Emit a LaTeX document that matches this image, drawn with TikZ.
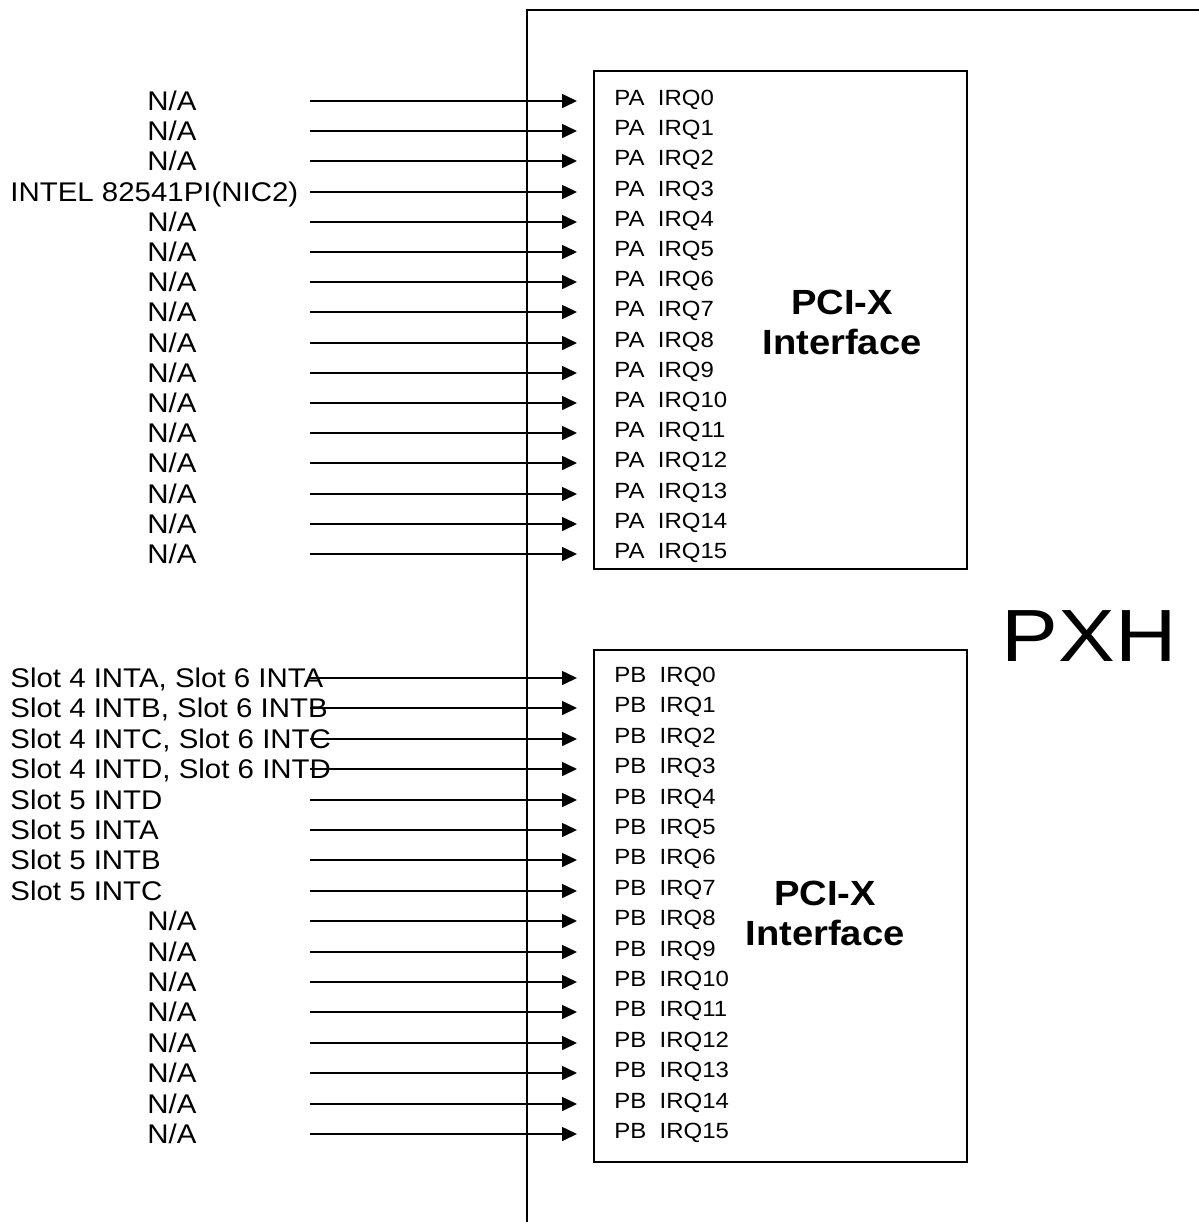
\documentclass[tikz,border=0pt]{standalone}
\usepackage{fontspec}
\setmainfont[FakeStretch=1.09]{Liberation Sans}
\newfontfamily\pxhfont[FakeStretch=1.15]{Liberation Sans}
\usetikzlibrary{arrows.meta,positioning}
\tikzset{
  px/.style={x=0.5pt,y=-0.5pt},
  frame/.style={line width=1pt},
  chipbox/.style={draw,line width=1pt},
  srclabel/.style={inner sep=0pt,anchor=base,font=\fontsize{13.5}{16}\selectfont},
  irqlabel/.style={inner sep=0pt,anchor=base west,font=\fontsize{11}{13}\selectfont},
  iface/.style={align=center,inner sep=0pt,font=\bfseries\fontsize{17.5}{20}\selectfont},
  irqarrow/.style={-{Triangle[length=7.5pt,width=7pt]},line width=0.8pt},
}
\begin{document}
\begin{tikzpicture}[px]
  \useasboundingbox (0,0) rectangle (1199,1222);
  % PXH outline, open to the right and bottom
  \draw[frame] (527,1222) -- (527,10) -- (1199,10);
  \node[font=\pxhfont\fontsize{37}{40}\selectfont,inner sep=0pt] (pxh) at (1089,636) {PXH};

  % port A
  \draw[chipbox] (594,71) rectangle (967,569);
  \node[iface] (pa-iface) at (842,322) {PCI-X\\Interface};
  \foreach \i in {0,...,15}{
    \pgfmathsetmacro\ya{round(101+30.2*\i)}
    \coordinate (pa-src\i) at (310,\ya);
    \coordinate (pa-tip\i) at (577,\ya);
    \node[irqlabel] (pa-irq\i) at (614,\ya+4) {PA\ \ IRQ\i};
    \draw[irqarrow] (pa-src\i) -- (pa-tip\i);
  }
  \foreach \i in {0,1,2,4,5,...,15}
    \node[srclabel] (pa-na\i) at (172,{round(101+30.2*\i)+9.7}) {N/A};
  \node[srclabel,anchor=base west] (pa-nic) at (10,{round(101+30.2*3)+9.7}) {INTEL 82541PI(NIC2)};

  % port B
  \draw[chipbox] (594,650) rectangle (967,1162);
  \node[iface] (pb-iface) at (825,913) {PCI-X\\Interface};
  \foreach \i in {0,...,15}{
    \pgfmathsetmacro\yb{round(678+30.4*\i)}
    \coordinate (pb-src\i) at (310,\yb);
    \coordinate (pb-tip\i) at (577,\yb);
    \node[irqlabel] (pb-irq\i) at (614,\yb+4) {PB\ \ IRQ\i};
    \draw[irqarrow] (pb-src\i) -- (pb-tip\i);
  }
  \foreach \txt [count=\i from 0] in {{Slot 4 INTA, Slot 6 INTA},{Slot 4 INTB, Slot 6 INTB},
      {Slot 4 INTC, Slot 6 INTC},{Slot 4 INTD, Slot 6 INTD},
      Slot 5 INTD,Slot 5 INTA,Slot 5 INTB,Slot 5 INTC}
    \node[srclabel,anchor=base west] (pb-slot\i) at (10,{round(678+30.4*\i)+9.7}) {\txt};
  \foreach \i in {8,...,15}
    \node[srclabel] (pb-na\i) at (172,{round(678+30.4*\i)+9.7}) {N/A};
\end{tikzpicture}
\end{document}
